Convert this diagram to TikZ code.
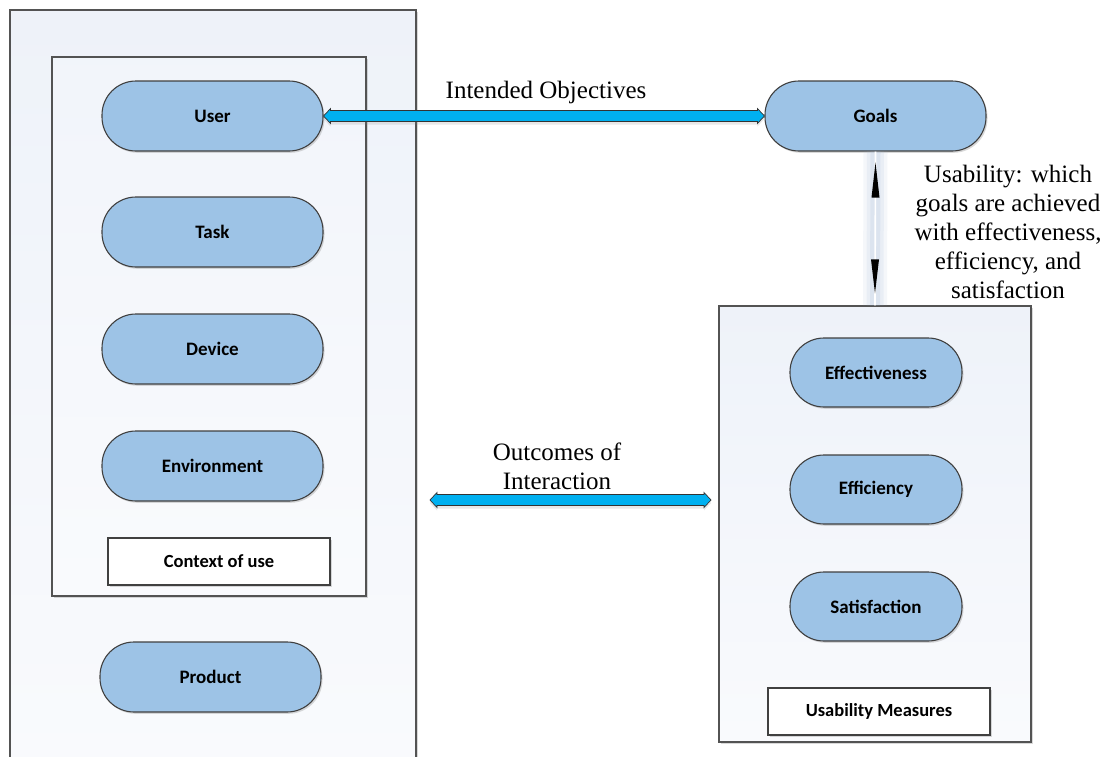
\documentclass[tikz,border=0pt]{standalone}
\usepackage{fontspec}
\setmainfont{Liberation Serif}
\newfontfamily\pillfont{Carlito}
\usetikzlibrary{shadows,calc}

\definecolor{pillblue}{RGB}{157,195,230}
\definecolor{edge}{RGB}{64,64,64}
\definecolor{arrowcyan}{RGB}{0,176,240}
\definecolor{panel}{RGB}{238,242,249}
\definecolor{glow}{RGB}{175,195,222}

% double-headed block arrow between two anchors (horizontal)
\newcommand\flowarrow[2]{%
  \path[flow] let \p1=(#1), \p2=(#2) in
    (\x1,\y1) -- (\x1+7pt,\y1+7.5pt) -- (\x1+7pt,\y1+5.5pt) -- (\x2-7pt,\y1+5.5pt)
    -- (\x2-7pt,\y1+7.5pt) -- (\x2,\y1) -- (\x2-7pt,\y1-7.5pt) -- (\x2-7pt,\y1-5.5pt)
    -- (\x1+7pt,\y1-5.5pt) -- (\x1+7pt,\y1-7.5pt) -- cycle;}

\begin{document}
\begin{tikzpicture}[x=1pt,y=-1pt,
  softshadow/.style={drop shadow={shadow xshift=1.5pt,shadow yshift=-1.8pt,opacity=.3,fill=gray}},
  panelbox/.style={draw=edge!90, line width=1.2pt, top color=panel, bottom color=panel!35,
    inner sep=0, softshadow},
  pill/.style={draw=edge, line width=1.1pt, fill=pillblue, rounded corners=34pt,
    minimum width=221pt, minimum height=70pt, inner sep=0,
    font=\pillfont\bfseries\fontsize{19}{22}\selectfont, softshadow},
  smallpill/.style={pill, minimum width=172pt, minimum height=69pt},
  tag/.style={draw=edge, line width=1.1pt, fill=white, minimum width=222pt,
    minimum height=47pt, inner sep=0, font=\pillfont\bfseries\fontsize{18.5}{22}\selectfont, softshadow},
  lbl/.style={font=\fontsize{25}{29}\selectfont, align=center, inner sep=0},
  flow/.style={draw=black!80, line width=0.7pt, fill=arrowcyan,
    drop shadow={shadow xshift=0pt,shadow yshift=-3pt,opacity=.18,fill=gray}},
  tip/.style={fill=black}
]
\fill[white] (0,0) rectangle (1112,756);
\useasboundingbox (0,0) rectangle (1112,756);

% product panel (runs off the bottom edge)
\node[panelbox, minimum width=406pt, minimum height=760pt] (product) at (213,390) {};
% context of use panel
\node[panelbox, minimum width=314pt, minimum height=539pt, top color=panel!80] (context) at (209,326.5) {};

\node[pill] (user) at (212.5,116) {User};
\node[pill] (task) at (212.5,232) {Task};
\node[pill] (device) at (212.5,349) {Device};
\node[pill] (env) at (212.5,466) {Environment};
\node[tag] (ctxtag) at (219,561.5) {Context of use};
\node[pill] (prod) at (210.5,677) {Product};

% goals and usability measures
\node[pill] (goals) at (875.5,116) {Goals};
\node[panelbox, minimum width=312pt, minimum height=436pt] (measures) at (875,524) {};
\node[smallpill] (effect) at (876,372.5) {Effectiveness};
\node[smallpill] (effic) at (876,489.5) {Efficiency};
\node[smallpill] (satis) at (876,606.5) {Satisfaction};
\node[tag] (umtag) at (879,711.5) {Usability Measures};

% horizontal block arrows
\flowarrow{user.east}{goals.west}
\coordinate (outL) at (430,500);
\coordinate (outR) at (711,500);
\flowarrow{outL}{outR}

% vertical glowing link with arrowheads
\foreach \w/\o in {24/.12,17/.16,10/.22}
  \draw[glow, line width=\w pt, opacity=\o] (goals.south) -- (measures.north);
\draw[white, line width=1.6pt] (goals.south) -- (measures.north);
\fill[tip] ($(goals.south)+(0,11)$) -- ++(4,35) -- ++(-8,0) -- cycle;
\fill[tip] ($(measures.north)+(0,-12)$) -- ++(4,-34) -- ++(-8,0) -- cycle;

% labels
\node[lbl] (objlbl) at (546,92) {Intended Objectives};
\node[lbl] (outlbl) at (557,466) {Outcomes of\\Interaction};
\node[lbl] (uselbl) at (1008,232) {Usability: which\\goals are achieved\\with effectiveness,\\efficiency, and\\satisfaction};
\end{tikzpicture}
\end{document}
